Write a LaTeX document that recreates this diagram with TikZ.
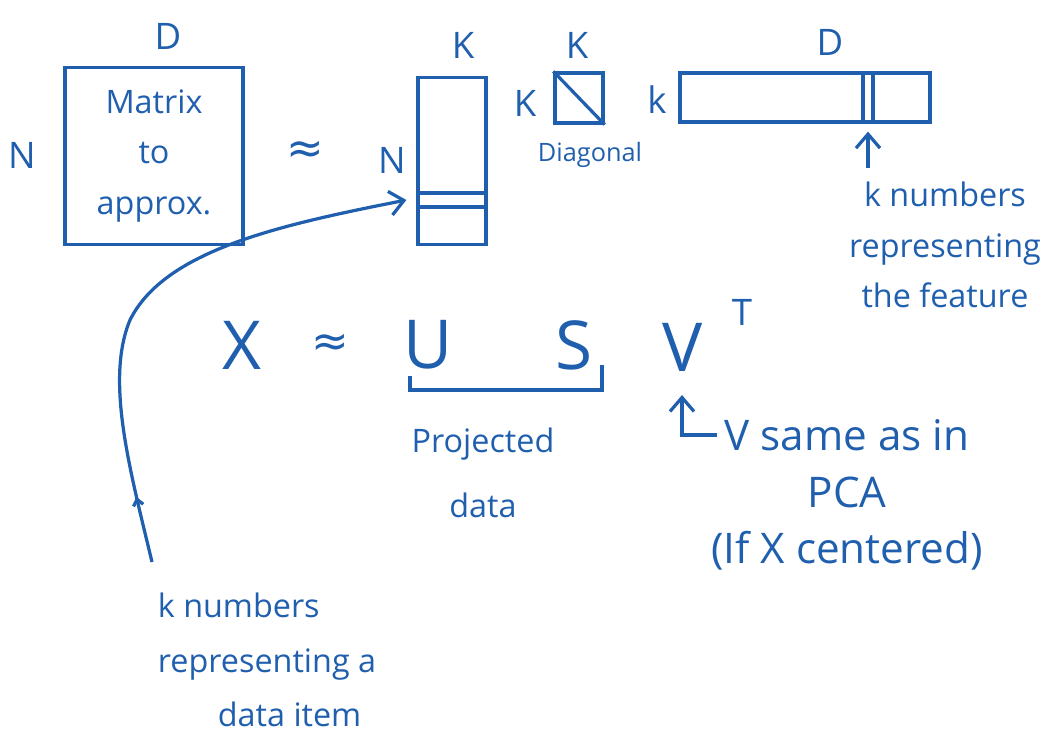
\documentclass[tikz,border=0pt]{standalone}
\usepackage{fontspec}
\setmainfont{Open Sans}
\newfontfamily\symfont{DejaVu Sans}
\usetikzlibrary{arrows.meta,decorations.markings}
\definecolor{ink}{HTML}{1F5FAE}
\begin{document}
\begin{tikzpicture}[x=0.025cm,y=-0.025cm,>={Straight Barb[length=3.5mm,width=6mm]},
  every node/.style={text=ink,inner sep=0pt},
  mat/.style={draw=ink,line width=2.3pt,inner sep=0pt},
  dim/.style={font=\fontsize{26}{30}\selectfont},
  note/.style={font=\fontsize{23}{36}\selectfont,align=center},
  approxsign/.style={font=\symfont\fontsize{32}{32}\selectfont},
  big/.style={font=\fontsize{48}{50}\selectfont}]
\useasboundingbox (0,0) rectangle (1050,737);
\node[mat,note,minimum width=4.45cm,minimum height=4.43cm] (Xbox) at (154,156) {Matrix\\to\\approx.};
\node[dim] (XD) at (168,36) {D};
\node[dim] (XN) at (22,155) {N};
\node[approxsign] (eqtop) at (305,152) {≈};
\node[mat,minimum width=1.7cm,minimum height=4.18cm] (Ubox) at (452,161) {};
\node[mat,minimum width=1.7cm,minimum height=0.35cm] (Urow) at (452,200) {};
\node[dim] (UK) at (463,45) {K};
\node[dim] (UN) at (392,160) {N};
\node[mat,minimum width=1.2cm,minimum height=1.25cm] (Sbox) at (579,98) {};
\draw[mat] (Sbox.north west) -- (Sbox.south east);
\node[dim] (SKtop) at (577,45) {K};
\node[dim] (SKleft) at (525,103) {K};
\node[font=\fontsize{18}{20}\selectfont] (Sdiag) at (590,155) {Diagonal};
\node[mat,minimum width=6.25cm,minimum height=1.225cm] (Vbox) at (805,97.5) {};
\node[mat,minimum width=0.25cm,minimum height=1.225cm] (Vcol) at (868,97.5) {};
\node[dim] (VD) at (830,42) {D};
\node[dim] (Vk) at (657,100) {k};
\node[note] (featnote) at (945,245) {k numbers\\representing\\the feature};
\coordinate (ftail) at (868,168);
\draw[mat,->] (ftail) -- ([yshift=-0.2cm]Vcol.south);
\node[big] (eqX) at (242,345) {X};
\node[approxsign] (eqbot) at (330,345) {≈};
\node[big] (eqU) at (428,345) {U};
\node[big] (eqS) at (574,345) {S};
\node[big] (eqV) at (683,347) {V};
\node[dim] (eqT) at (742,312) {T};
\draw[mat] (410,376) -- (410,390) -- (602,390) -- (602,365);
\node[note,font=\fontsize{23}{46}\selectfont] (projnote) at (483,473) {Projected\\data};
\coordinate (lfoot) at (717,435);
\coordinate (vtip) at (682,395);
\draw[mat,->] (lfoot) -| (vtip);
\node[note,font=\fontsize{30}{40}\selectfont] (vnote) at (847,495) {V same as in\\PCA\\(If X centered)};
\node[note,align=left,font=\fontsize{23}{39}\selectfont] (itemnote) at (267,660) {k numbers\\representing a\\\hspace*{1.5cm}data item};
\coordinate (itail) at (152,562);
\draw[mat,->,postaction={decorate},decoration={markings,mark=at position 0.12 with {\arrow{Straight Barb[length=1.5mm,width=2.5mm]}}}]
  (itail) .. controls (130,470) and (105,380) .. (130,320) .. controls (165,250) and (280,225) .. ([xshift=-0.25cm]Urow.west);
\end{tikzpicture}
\end{document}
